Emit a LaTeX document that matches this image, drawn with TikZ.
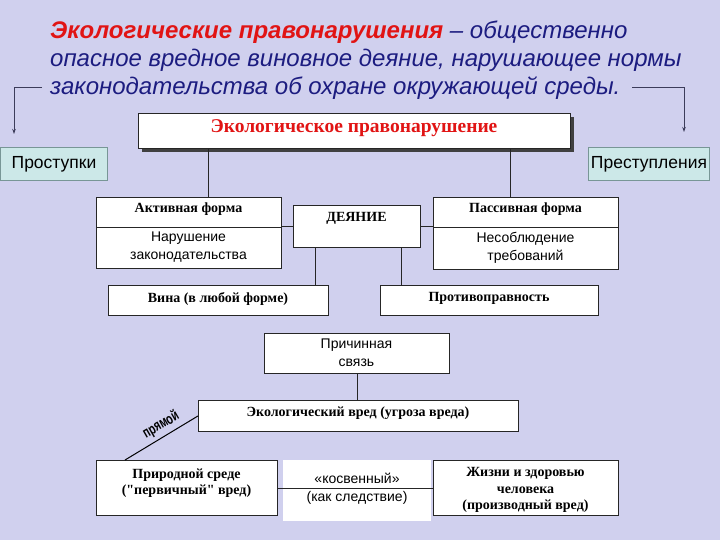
\documentclass[tikz,border=0pt]{standalone}
\usepackage{fontspec}
\setmainfont{Liberation Serif}
\setsansfont{Liberation Sans}
\newfontfamily\plainser{Liberation Serif}
\newfontfamily\narrowsans[FakeStretch=0.7]{Liberation Sans}
\usetikzlibrary{shadows,arrows.meta}
\definecolor{bg}{RGB}{208,208,238}
\definecolor{ttl}{RGB}{28,28,128}
\definecolor{ttlred}{RGB}{225,20,20}
\definecolor{tealf}{RGB}{204,232,232}
\definecolor{tealb}{RGB}{120,150,150}
\definecolor{brk}{RGB}{60,60,90}
\newcommand{\sq}{{\plainser\bfseries "}}
\begin{document}
\begin{tikzpicture}[x=1pt,y=-1pt,
  box/.style={draw=black!85, fill=white, line width=0.9pt, inner sep=0pt, anchor=north west},
  tbox/.style={draw=tealb, fill=tealf, line width=1pt, inner sep=0pt, anchor=north west, font=\sffamily\fontsize{17.5}{19}\selectfont},
  bs/.style={font=\bfseries\fontsize{14}{16.5}\selectfont, inner sep=0pt, align=center},
  ss/.style={font=\sffamily\fontsize{14}{17.5}\selectfont, inner sep=0pt, align=center},
  tt/.style={font=\sffamily\itshape\fontsize{24}{26}\selectfont, text=ttl, anchor=west, inner sep=0pt},
  ln/.style={draw=black!85, line width=0.9pt},
  arr/.style={draw=brk, line width=1pt, -{Stealth[length=5pt,width=3.5pt]}}
]
\fill[bg] (0,0) rectangle (720,540);
\useasboundingbox (0,0) rectangle (720,540);

% title
\node[tt] (t1) at (50,32) {{\color{ttlred}\bfseries Экологические правонарушения} – общественно};
\node[tt] (t2) at (50,60) {опасное вредное виновное деяние, нарушающее нормы};
\node[tt] (t3) at (50,88) {законодательства об охране окружающей среды.};

% top boxes
\node[tbox, minimum width=107pt, minimum height=33pt] (prost) at (0,147) {Проступки};
\node[tbox, minimum width=121pt, minimum height=33pt] (prest) at (588,147) {Преступления};

\coordinate (la) at (14,134);
\coordinate (ra) at (684,132);
\coordinate (ls) at (42,88);
\coordinate (rs) at (632,88);
\draw[arr] (ls) -| (la);
\draw[arr] (rs) -| (ra);

% main box
\node[box, minimum width=432pt, minimum height=35pt,
  drop shadow={shadow xshift=4pt, shadow yshift=-4pt, fill=black!75, opacity=1}] (main) at (138,113) {};
\node[font=\bfseries\fontsize{19.5}{21}\selectfont, text=ttlred, inner sep=0pt] (maint) at (354,128) {Экологическое правонарушение};

% second level
\node[box, minimum width=185pt, minimum height=71pt] (act) at (96,197) {};
\draw[ln] (act.west |- 0,227) -- (act.east |- 0,227);
\node[bs] (actt) at (188.5,209) {Активная форма};
\node[ss] (actb) at (188.5,247) {Нарушение\\законодательства};

\node[box, minimum width=185pt, minimum height=72pt] (pas) at (433,197) {};
\draw[ln] (pas.west |- 0,227) -- (pas.east |- 0,227);
\node[bs] (past) at (525.5,209) {Пассивная форма};
\node[ss] (pasb) at (525.5,248) {Несоблюдение\\требований};

\node[box, minimum width=127pt, minimum height=42pt] (dey) at (293,205) {};
\node[bs] (deyt) at (356.5,218) {ДЕЯНИЕ};

\coordinate (v1) at (208,0);
\coordinate (v2) at (510,0);
\draw[ln] (main.south -| v1) -- (act.north -| v1);
\draw[ln] (main.south -| v2) -- (pas.north -| v2);
\coordinate (hy) at (0,226);
\draw[ln] (act.east |- hy) -- (dey.west |- hy);
\draw[ln] (dey.east |- hy) -- (pas.west |- hy);

% third level
\node[box, minimum width=220pt, minimum height=30pt] (vina) at (108,285) {};
\node[bs] (vinat) at (218,298.5) {Вина (в любой форме)};
\node[box, minimum width=218pt, minimum height=30pt] (prot) at (380,285) {};
\node[bs] (prott) at (489,298.5) {Противоправность};
\coordinate (v3) at (315,0);
\coordinate (v4) at (401,0);
\draw[ln] (dey.south -| v3) -- (vina.north -| v3);
\draw[ln] (dey.south -| v4) -- (prot.north -| v4);

% causal
\node[box, minimum width=185pt, minimum height=40pt] (prich) at (264,333) {};
\node[ss] (pricht) at (356.5,353) {Причинная\\связь};
\node[box, minimum width=320pt, minimum height=31pt] (vred) at (198,400) {};
\node[bs] (vredt) at (358,413) {Экологический вред (угроза вреда)};
\coordinate (v5) at (357,0);
\draw[ln] (prich.south -| v5) -- (vred.north -| v5);

% bottom
\fill[white] (283,460) rectangle (431,521);
\node[box, minimum width=181pt, minimum height=55pt] (prir) at (96,460) {};
\node[bs] (prirt) at (186.5,483) {Природной среде\\(\sq первичный\sq{} вред)};
\node[box, minimum width=185pt, minimum height=55pt] (zhiz) at (433,460) {};
\node[bs] (zhizt) at (525.5,490) {Жизни и здоровью\\человека\\(производный вред)};
\draw[ln] (prir.east) -- (zhiz.west);
\node[ss] (kos) at (357,478) {«косвенный»};
\node[ss] (kos2) at (357,498) {(как следствие)};

\coordinate (dg) at (125,460);
\draw[line width=1pt] (dg) -- (vred.west);
\node[font=\narrowsans\bfseries\fontsize{15}{16}\selectfont, rotate=30, inner sep=0pt] (pr) at (161,425) {прямой};
\end{tikzpicture}
\end{document}
